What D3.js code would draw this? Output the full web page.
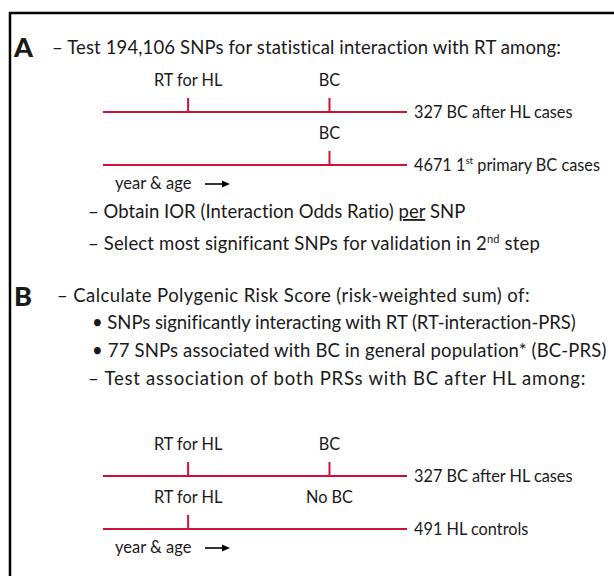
<!DOCTYPE html>
<html>
<head>
<meta charset="utf-8">
<script src="https://cdn.jsdelivr.net/npm/d3@7"></script>
<style>
  body { margin: 0; background: #fff; }
  svg { display: block; }
  text { font-family: Lato, "Noto Sans", sans-serif; fill: #1a1a1a; }
</style>
</head>
<body>
<div id="chart"></div>
<script>
// ---------------------------------------------------------------------------------
// TEXT CONTENT ("^{..}" = superscript, "_{..}" = underlined)
const sectionLetters = ["A", "B"];
const stepsA = [
    "– Test 194,106 SNPs for statistical interaction with RT among:",
    "– Obtain IOR (Interaction Odds Ratio) _{per} SNP",
    "– Select most significant SNPs for validation in 2^{nd} step"
];
const stepsB = [
    "– Calculate Polygenic Risk Score (risk-weighted sum) of:",
    "• SNPs significantly interacting with RT (RT-interaction-PRS)",
    "• 77 SNPs associated with BC in general population* (BC-PRS)",
    "– Test association of both PRSs with BC after HL among:"
];

// TIMELINES: relative moment of each event on the "year & age" axis
const eventNames = ["RT for HL", "BC", "No BC"];
const eventTimes = [0.28, 0.745, 0.745];
const cohortsA = ["327 BC after HL cases", "4671 1^{st} primary BC cases"];
const labelsA = [["RT for HL", "BC"], ["BC"]];
const ticksA = [["RT for HL", "BC"], ["BC"]];
const cohortsB = ["327 BC after HL cases", "491 HL controls"];
const labelsB = [["RT for HL", "BC"], ["RT for HL", "No BC"]];
const ticksB = [["RT for HL", "BC"], ["RT for HL"]];
const axisCaption = "year & age";

// ---------------------------------------------------------------------------------
// SET-UP
const width = 614;
const height = 576;
const red = "#d0103a";
const stepSize = 18.5;
const labelSize = 16.3;

const svg = d3.select("#chart")
    .append("svg")
    .attr("width", width)
    .attr("height", height);

// frame (runs off the right and bottom edges)
svg.append("rect")
    .attr("x", 10)
    .attr("y", 13)
    .attr("width", 700)
    .attr("height", 700)
    .attr("fill", "none")
    .attr("stroke", "#000")
    .attr("stroke-width", 2.5);

// time scale for the timelines
const timeX = d3.scaleLinear().domain([0, 1]).range([103, 407]);
const eventTime = name => eventTimes[eventNames.indexOf(name)];

// writes a line of text with the little markup for superscripts / underlines
function richText(g, str, x, y, size) {
    const t = g.append("text")
        .attr("x", x)
        .attr("y", y)
        .attr("font-size", size);
    const parts = str.split(/(\^\{[^}]*\}|_\{[^}]*\})/).filter(p => p !== "");
    let raised = false;
    parts.forEach(function(p) {
        if (p.startsWith("^{")) {
            t.append("tspan")
                .attr("font-size", size * 0.6)
                .attr("dy", -size * 0.38)
                .text(p.slice(2, -1));
            raised = true;
        } else {
            const s = t.append("tspan")
                .attr("dy", raised ? size * 0.38 : null)
                .text(p.startsWith("_{") ? p.slice(2, -1) : p);
            if (p.startsWith("_{")) s.style("text-decoration", "underline");
            raised = false;
        }
    });
    return t;
}

// stretch the letter spacing a little so the line ends where the original does
function fitTo(t, x, right) {
    const w = t.node().getComputedTextLength();
    const n = t.text().length;
    t.attr("letter-spacing", (right - x - w) / n);
}

// ---------------------------------------------------------------------------------
// SECTION LETTERS
const letterY = [57, 306];
svg.selectAll("text.letter")
    .data(sectionLetters)
    .join("text")
    .attr("class", "letter")
    .attr("x", 14)
    .attr("y", (d, i) => letterY[i])
    .attr("font-size", 27)
    .attr("font-weight", 900)
    .text(d => d);

// ---------------------------------------------------------------------------------
// STEP LINES  [x, baseline, right end]
const stepsAPos = [[52, 54, 562], [88, 218, 466], [88, 250, 540]];
stepsA.forEach(function(s, i) {
    const p = stepsAPos[i];
    fitTo(richText(svg, s, p[0], p[1], stepSize), p[0], p[2]);
});

const stepsBPos = [[57, 302, 530], [92, 329, 576], [92, 357, 607], [88, 385, 586]];
stepsB.forEach(function(s, i) {
    const p = stepsBPos[i];
    fitTo(richText(svg, s, p[0], p[1], stepSize), p[0], p[2]);
});

// ---------------------------------------------------------------------------------
// TIMELINES
function drawTimelines(top, cohorts, labels, ticks) {
    const g = svg.append("g");
    cohorts.forEach(function(cohort, i) {
        const labelY = top + i * 53;
        const lineY = labelY + 26;

        g.selectAll(null)
            .data(labels[i])
            .join("text")
            .attr("x", d => timeX(eventTime(d)))
            .attr("y", labelY)
            .attr("text-anchor", "middle")
            .attr("font-size", labelSize)
            .text(d => d);

        g.append("line")
            .attr("x1", timeX(0))
            .attr("x2", timeX(1))
            .attr("y1", lineY)
            .attr("y2", lineY)
            .attr("stroke", red)
            .attr("stroke-width", 2);

        g.selectAll(null)
            .data(ticks[i])
            .join("line")
            .attr("x1", d => timeX(eventTime(d)))
            .attr("x2", d => timeX(eventTime(d)))
            .attr("y1", lineY - 14)
            .attr("y2", lineY)
            .attr("stroke", red)
            .attr("stroke-width", 2);

        richText(g, cohort, timeX(1) + 7, lineY + 5.5, labelSize);
    });

    // axis caption with arrow
    const capY = top + 103;
    g.append("text")
        .attr("x", 115)
        .attr("y", capY)
        .attr("font-size", 16.5)
        .text(axisCaption);
    g.append("line")
        .attr("x1", 205).attr("x2", 224)
        .attr("y1", capY - 5).attr("y2", capY - 5)
        .attr("stroke", "#000")
        .attr("stroke-width", 1.6);
    g.append("path")
        .attr("d", `M222,${capY - 8.5}L230,${capY - 5}L222,${capY - 1.5}Z`)
        .attr("fill", "#000");
}

drawTimelines(86, cohortsA, labelsA, ticksA);
drawTimelines(450, cohortsB, labelsB, ticksB);
</script>
</body>
</html>
